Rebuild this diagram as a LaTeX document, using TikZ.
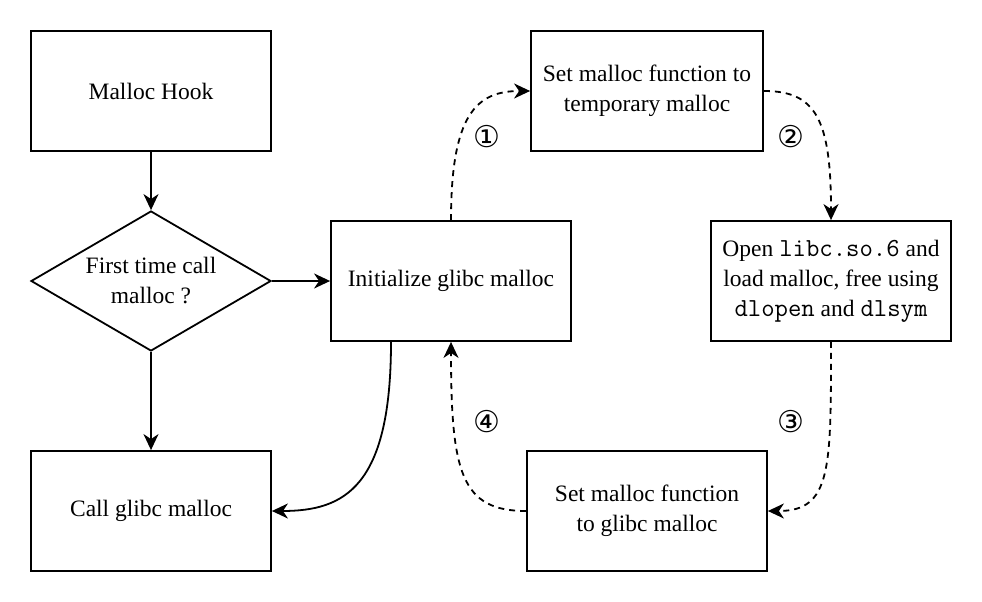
\documentclass[tikz,border=0pt]{standalone}
\usepackage{fontspec}
\setmainfont{Liberation Serif}
\newfontfamily\circfont{DejaVu Sans}
\newcommand\code[1]{{\ttfamily\fontsize{26}{30}\selectfont #1}}
\usetikzlibrary{shapes.geometric, positioning, arrows.meta}

\begin{document}
\begin{tikzpicture}[x=1pt,y=-1pt,>={Stealth[length=16pt,width=15pt,inset=5pt]},line width=1.8pt,
    node distance=190pt,font=\fontsize{23.5}{30}\selectfont,
    block/.style={rectangle,draw,minimum width=240pt,minimum height=120pt,align=center,inner sep=0pt},
    decision/.style={diamond,draw,aspect=1.7,minimum width=240pt,minimum height=140pt,align=center,inner sep=0pt},
    steplink/.style={->,dash pattern=on 6pt off 5pt},
    num/.style={font=\circfont\fontsize{30}{30}\selectfont}]

\useasboundingbox (0,0) rectangle (982,602);

\node[block]    (hook)  at (151,91)                        {Malloc Hook};
\node[decision] (first) [below of=hook]                    {First time call\\malloc ?};
\node[block]    (call)  [below of=first,node distance=230pt] {Call glibc malloc};
\node[block]    (init)  [right of=first,node distance=300pt] {Initialize glibc malloc};
\node[block,minimum width=232pt] (temp) at (647,91)        {Set malloc function to\\temporary malloc};
\node[block]    (open)  [right of=init,node distance=380pt]  {Open \code{libc.so.6} and\\load malloc, free using\\\code{dlopen} and \code{dlsym}};
\node[block]    (setg)  at (647,511)                       {Set malloc function\\to glibc malloc};

\node[num] (n1) at (487,137) {①};
\node[num] (n2) at (791,137) {②};
\node[num] (n3) at (791,422) {③};
\node[num] (n4) at (487,422) {④};

\path[->]
(hook)  edge (first)
(first) edge (init)
(first) edge (call)
;
\draw[->] ([xshift=-60pt]init.south) to[out=-90,in=0,out looseness=1.8,in looseness=0.9] (call);

% dashed steps round the cycle
\draw[steplink] (init) to[out=90,in=180,out looseness=1.8,in looseness=0.9] (temp);
\draw[steplink] (temp) to[out=0,in=90,out looseness=0.9,in looseness=1.8] (open);
\draw[steplink] (open) to[out=-90,in=0,out looseness=1.8,in looseness=0.9] (setg);
\draw[steplink] (setg) to[out=180,in=-90,out looseness=0.9,in looseness=1.8] (init);
\end{tikzpicture}
\end{document}
